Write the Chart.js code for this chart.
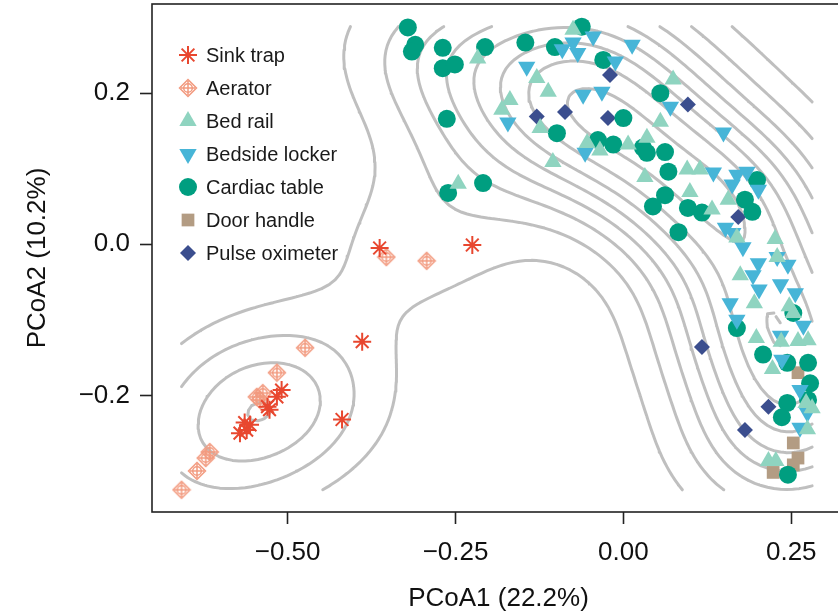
<!DOCTYPE html>
<html lang="en">
<head>
<meta charset="UTF-8">
<title>PCoA of hospital surface samples</title>
<script src="https://cdn.jsdelivr.net/npm/chart.js@4.4.0/dist/chart.umd.min.js"></script>
<style>
  html, body { margin: 0; padding: 0; background: #fff; overflow: hidden; }
  #wrap { width: 846px; height: 612px; }
</style>
</head>
<body>
<div id="wrap"><canvas id="pcoa" width="846" height="612"></canvas></div>

<script>
// samples as [PCoA1, PCoA2]
const categories = ['Sink trap', 'Aerator', 'Bed rail', 'Bedside locker', 'Cardiac table', 'Door handle', 'Pulse oximeter'];

const sinkTrap = [[-0.363, -0.005], [-0.225, -0.001], [-0.389, -0.129], [-0.419, -0.232], [-0.509, -0.193], [-0.516, -0.202],
  [-0.527, -0.219], [-0.530, -0.215], [-0.556, -0.239], [-0.564, -0.236], [-0.561, -0.246], [-0.571, -0.250]];

const aerator = [[-0.353, -0.017], [-0.293, -0.022], [-0.474, -0.137], [-0.516, -0.170], [-0.537, -0.197], [-0.541, -0.206],
  [-0.546, -0.202], [-0.616, -0.275], [-0.622, -0.283], [-0.635, -0.300], [-0.658, -0.325]];

const bedRail = [[-0.217, 0.246], [-0.075, 0.284], [-0.129, 0.220], [-0.112, 0.202], [-0.169, 0.191], [-0.181, 0.178],
  [-0.124, 0.154], [-0.105, 0.109], [-0.246, 0.080], [-0.054, 0.134], [-0.035, 0.124], [0.007, 0.132], [0.035, 0.141],
  [0.074, 0.218], [0.055, 0.162], [0.032, 0.089], [0.095, 0.099], [0.114, 0.099], [0.099, 0.069], [0.132, 0.046],
  [0.156, 0.059], [0.169, 0.009], [0.226, 0.007], [0.229, -0.017], [0.174, -0.041], [0.195, -0.078], [0.247, -0.082],
  [0.253, -0.091], [0.198, -0.124], [0.235, -0.129], [0.260, -0.128], [0.275, -0.127], [0.222, -0.165], [0.272, -0.210],
  [0.281, -0.217], [0.274, -0.245], [0.216, -0.287], [0.227, -0.287]];

const bedsideLocker = [[-0.144, 0.235], [-0.172, 0.161], [-0.091, 0.258], [-0.075, 0.267], [-0.068, 0.253], [-0.045, 0.275],
  [0.013, 0.264], [-0.060, 0.198], [-0.032, 0.202], [-0.012, 0.242], [0.070, 0.182], [0.149, 0.148], [-0.057, 0.121],
  [0.134, 0.095], [0.169, 0.092], [0.184, 0.096], [0.162, 0.079], [0.201, 0.072], [0.152, 0.022], [0.163, 0.015],
  [0.178, -0.004], [0.201, -0.025], [0.229, -0.017], [0.245, -0.027], [0.193, -0.041], [0.202, -0.060], [0.234, -0.053],
  [0.256, -0.065], [0.159, -0.078], [0.169, -0.100], [0.268, -0.108], [0.234, -0.121], [0.236, -0.153], [0.263, -0.193],
  [0.274, -0.223], [0.263, -0.243]];

const cardiacTable = [[-0.321, 0.287], [-0.310, 0.264], [-0.315, 0.255], [-0.269, 0.260], [-0.269, 0.233], [-0.251, 0.238],
  [-0.206, 0.261], [-0.263, 0.166], [-0.209, 0.081], [-0.261, 0.068], [-0.146, 0.267], [-0.102, 0.261], [-0.062, 0.288],
  [-0.030, 0.244], [-0.099, 0.147], [0.000, 0.167], [-0.038, 0.138], [-0.015, 0.132], [0.029, 0.128], [0.035, 0.121],
  [0.062, 0.122], [0.067, 0.096], [0.055, 0.200], [0.062, 0.065], [0.044, 0.050], [0.096, 0.048], [0.117, 0.042],
  [0.082, 0.016], [0.199, 0.085], [0.181, 0.059], [0.192, 0.043], [0.169, -0.111], [0.208, -0.146], [0.244, -0.157],
  [0.275, -0.157], [0.278, -0.184], [0.244, -0.210], [0.236, -0.229], [0.275, -0.206], [0.245, -0.305], [0.253, -0.091]];

const doorHandle = [[0.260, -0.170], [0.253, -0.263], [0.260, -0.283], [0.253, -0.292], [0.223, -0.302]];

const pulseOximeter = [[-0.129, 0.169], [-0.087, 0.175], [-0.020, 0.224], [-0.023, 0.167], [0.096, 0.185], [0.171, 0.036],
  [0.117, -0.136], [0.216, -0.215], [0.181, -0.246]];

const xTickValues = [-0.5, -0.25, 0, 0.25];
const xTickLabels = ['\u22120.50', '\u22120.25', '0.00', '0.25'];
const yTickValues = [-0.2, 0, 0.2];
const yTickLabels = ['\u22120.2', '0.0', '0.2'];

const FONT = '"Liberation Sans", Arial, Helvetica, sans-serif';
Chart.defaults.font.family = FONT;
Chart.defaults.color = '#111';

// aerator marker: diamond with a crossed circle inside
function aeratorGlyph(color) {
  const c = document.createElement('canvas');
  c.width = 20; c.height = 20;
  const g = c.getContext('2d');
  g.strokeStyle = color;
  g.lineWidth = 1.5;
  g.beginPath();
  g.moveTo(10, 1.5); g.lineTo(18.5, 10); g.lineTo(10, 18.5); g.lineTo(1.5, 10); g.closePath();
  g.moveTo(10, 3); g.lineTo(10, 17);
  g.moveTo(3, 10); g.lineTo(17, 10);
  g.stroke();
  g.beginPath();
  g.arc(10, 10, 4.3, 0, Math.PI * 2);
  g.stroke();
  return c;
}

// --- 2d kernel density like MASS::kde2d / stat_density2d ---
function quantile(sorted, p) {
  const h = (sorted.length - 1) * p, lo = Math.floor(h);
  const hi = Math.min(lo + 1, sorted.length - 1);
  return sorted[lo] + (h - lo) * (sorted[hi] - sorted[lo]);
}
function bandwidthNrd(v) {
  const s = [...v].sort((a, b) => a - b);
  const n = v.length;
  const m = v.reduce((a, b) => a + b, 0) / n;
  const sd = Math.sqrt(v.reduce((a, b) => a + (b - m) * (b - m), 0) / (n - 1));
  const iqr = (quantile(s, 0.75) - quantile(s, 0.25)) / 1.34;
  return 4 * 1.06 * Math.min(sd, iqr) * Math.pow(n, -0.2);
}
function seq(lo, hi, n) {
  const out = [];
  for (let i = 0; i < n; i++) out.push(lo + (hi - lo) * i / (n - 1));
  return out;
}
function kde2d(xs, ys, n) {
  const gx = seq(Math.min(...xs), Math.max(...xs), n);
  const gy = seq(Math.min(...ys), Math.max(...ys), n);
  const hx = bandwidthNrd(xs) / 4, hy = bandwidthNrd(ys) / 4;
  const dnorm = u => Math.exp(-0.5 * u * u) / Math.sqrt(2 * Math.PI);
  const z = gx.map(() => new Array(n).fill(0));
  for (let k = 0; k < xs.length; k++) {
    const ax = gx.map(g => dnorm((g - xs[k]) / hx));
    const ay = gy.map(g => dnorm((g - ys[k]) / hy));
    for (let i = 0; i < n; i++) {
      if (ax[i] < 1e-12) continue;
      for (let j = 0; j < n; j++) z[i][j] += ax[i] * ay[j];
    }
  }
  const norm = xs.length * hx * hy;
  for (let i = 0; i < n; i++) for (let j = 0; j < n; j++) z[i][j] /= norm;
  return {gx, gy, z};
}
// R's pretty()
function prettyBreaks(lo, hi, ndiv) {
  const cell = (hi - lo) / ndiv;
  const U = Math.pow(10, Math.floor(Math.log10(cell)));
  let unit = U;
  if (2 * U - cell < 1.5 * (cell - unit)) {
    unit = 2 * U;
    if (5 * U - cell < 2.75 * (cell - unit)) {
      unit = 5 * U;
      if (10 * U - cell < 1.5 * (cell - unit)) unit = 10 * U;
    }
  }
  const out = [];
  for (let k = Math.floor(lo / unit + 1e-7); k <= Math.ceil(hi / unit - 1e-7); k++) out.push(k * unit);
  return out;
}
// marching squares, segments separated by gaps
function isoSegments(gx, gy, z, lev, out) {
  const gap = () => ({x: NaN, y: NaN});
  const cut = (p0, v0, p1, v1) => p0 + (lev - v0) / (v1 - v0) * (p1 - p0);
  for (let i = 0; i < gx.length - 1; i++) {
    for (let j = 0; j < gy.length - 1; j++) {
      const a = z[i][j], b = z[i + 1][j], c = z[i + 1][j + 1], d = z[i][j + 1];
      const sa = a >= lev, sb = b >= lev, sc = c >= lev, sd = d >= lev;
      if (sa === sb && sb === sc && sc === sd) continue;
      const x0 = gx[i], x1 = gx[i + 1], y0 = gy[j], y1 = gy[j + 1];
      const E = {};
      if (sa !== sb) E.bottom = {x: cut(x0, a, x1, b), y: y0};
      if (sb !== sc) E.right = {x: x1, y: cut(y0, b, y1, c)};
      if (sd !== sc) E.top = {x: cut(x0, d, x1, c), y: y1};
      if (sa !== sd) E.left = {x: x0, y: cut(y0, a, y1, d)};
      const keys = Object.keys(E);
      if (keys.length === 2) {
        out.push({...E[keys[0]]}, {...E[keys[1]]}, gap());
      } else {
        const centre = (a + b + c + d) / 4 >= lev;
        if (sa !== centre) out.push({...E.left}, {...E.bottom}, gap());
        if (sb !== centre) out.push({...E.bottom}, {...E.right}, gap());
        if (sc !== centre) out.push({...E.right}, {...E.top}, gap());
        if (sd !== centre) out.push({...E.top}, {...E.left}, gap());
      }
    }
  }
}

const allSamples = [].concat(sinkTrap, aerator, bedRail, bedsideLocker, cardiacTable, doorHandle, pulseOximeter);
const dens = kde2d(allSamples.map(p => p[0]), allSamples.map(p => p[1]), 100);
let zMin = Infinity, zMax = -Infinity;
dens.z.forEach(col => col.forEach(v => { zMin = Math.min(zMin, v); zMax = Math.max(zMax, v); }));
const contourLevels = prettyBreaks(zMin, zMax, 10).filter(l => l > zMin && l < zMax);
const contourData = [];
contourLevels.forEach(l => isoSegments(dens.gx, dens.gy, dens.z, l, contourData));

const toXY = arr => arr.map(p => ({x: p[0], y: p[1]}));

const datasets = [
  {label: categories[0], data: toXY(sinkTrap), pointStyle: 'star', pointRadius: 9,
   borderColor: '#e8472f', backgroundColor: '#e8472f', pointBorderWidth: 2},
  {label: categories[1], data: toXY(aerator), pointStyle: aeratorGlyph('#f29a7f'), pointRadius: 10,
   borderColor: '#f29a7f', backgroundColor: '#f29a7f'},
  {label: categories[2], data: toXY(bedRail), pointStyle: 'triangle', pointRadius: 10,
   backgroundColor: '#8fd4c0', borderColor: '#8fd4c0', pointBorderWidth: 0},
  {label: categories[3], data: toXY(bedsideLocker), pointStyle: 'triangle', pointRotation: 180, pointRadius: 10,
   backgroundColor: '#47b5d7', borderColor: '#47b5d7', pointBorderWidth: 0},
  {label: categories[4], data: toXY(cardiacTable), pointStyle: 'circle', pointRadius: 9,
   backgroundColor: '#009e80', borderColor: '#009e80', pointBorderWidth: 0},
  {label: categories[5], data: toXY(doorHandle), pointStyle: 'rect', pointRadius: 9,
   backgroundColor: '#b39c83', borderColor: '#b39c83', pointBorderWidth: 0},
  {label: categories[6], data: toXY(pulseOximeter), pointStyle: 'rectRot', pointRadius: 8,
   backgroundColor: '#3b4e8e', borderColor: '#3b4e8e', pointBorderWidth: 0},
  {label: 'density', data: contourData, parsing: false, showLine: true, spanGaps: false,
   pointRadius: 0, pointHitRadius: 0, borderColor: '#bfbfbf', borderWidth: 3,
   borderCapStyle: 'round', borderJoinStyle: 'round', order: 10}
];

// legend drawn inside the plot, top left
const insetLegend = {
  id: 'insetLegend',
  afterDraw(chart) {
    const {ctx, chartArea} = chart;
    ctx.save();
    ctx.font = '20px ' + FONT;
    ctx.textBaseline = 'middle';
    categories.forEach((name, i) => {
      const ds = chart.data.datasets[i];
      const x = chartArea.left + 36, y = chartArea.top + 51 + i * 33;
      ctx.fillStyle = ds.backgroundColor;
      ctx.strokeStyle = ds.borderColor;
      ctx.lineWidth = ds.pointBorderWidth || 0;
      Chart.helpers.drawPoint(ctx, {
        pointStyle: ds.pointStyle, radius: ds.pointRadius,
        rotation: ds.pointRotation || 0, borderWidth: ds.pointBorderWidth || 0
      }, x, y);
      ctx.fillStyle = '#1a1a1a';
      ctx.fillText(name, chartArea.left + 54, y + 1);
    });
    ctx.restore();
  }
};

const frame = {
  id: 'frame',
  afterDatasetsDraw(chart) {
    const {ctx, chartArea: a} = chart;
    ctx.save();
    ctx.strokeStyle = '#222';
    ctx.lineWidth = 1.6;
    ctx.strokeRect(a.left, a.top, a.right - a.left, a.bottom - a.top);
    ctx.restore();
  }
};

new Chart(document.getElementById('pcoa'), {
  type: 'scatter',
  data: {datasets},
  options: {
    responsive: false,
    animation: false,
    events: [],
    layout: {autoPadding: false, padding: {top: 4, right: 1, left: 0, bottom: 0}},
    plugins: {legend: {display: false}, tooltip: {enabled: false}},
    scales: {
      x: {
        type: 'linear', min: -0.702, max: 0.33,
        afterBuildTicks: s => { s.ticks = xTickValues.map(v => ({value: v})); },
        afterFit: s => { s.height = 100; s.paddingLeft = 0; s.paddingRight = 0; },
        border: {display: false},
        grid: {drawOnChartArea: false, drawTicks: true, tickLength: 12, tickColor: '#222', tickWidth: 1.6},
        ticks: {padding: 13, font: {size: 26}, color: '#111',
                callback: v => xTickLabels[xTickValues.indexOf(v)]},
        title: {display: true, text: 'PCoA1 (22.2%)', font: {size: 26}, color: '#111',
                padding: {top: 0, bottom: -2}}
      },
      y: {
        type: 'linear', min: -0.3544, max: 0.318,
        afterBuildTicks: s => { s.ticks = yTickValues.map(v => ({value: v})); },
        afterFit: s => { s.width = 152; s.paddingTop = 0; s.paddingBottom = 0; },
        border: {display: false},
        grid: {drawOnChartArea: false, drawTicks: true, tickLength: 12, tickColor: '#222', tickWidth: 1.6},
        ticks: {padding: 10, font: {size: 26}, color: '#111',
                callback: v => yTickLabels[yTickValues.indexOf(v)]},
        title: {display: true, text: 'PCoA2 (10.2%)', font: {size: 26}, color: '#111',
                padding: {top: 22, bottom: 0}}
      }
    }
  },
  plugins: [frame, insetLegend]
});
</script>
</body>
</html>
